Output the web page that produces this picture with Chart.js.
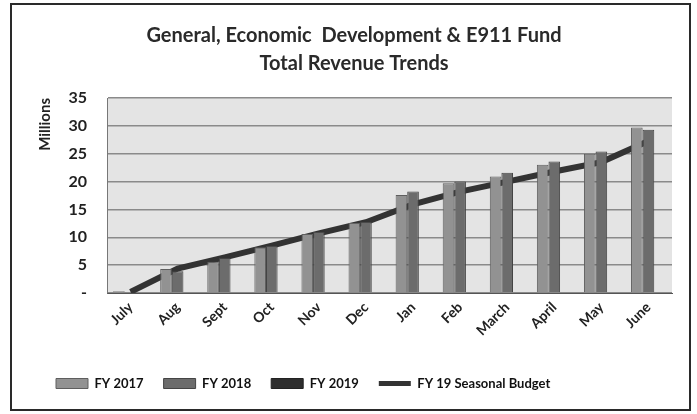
<!DOCTYPE html>
<html>
<head>
<meta charset="utf-8">
<script src="https://cdn.jsdelivr.net/npm/chart.js@4"></script>
<style>
  html, body { margin: 0; padding: 0; background: #fff; }
  #wrap { width: 697px; height: 414px; }
</style>
</head>
<body>
<div id="wrap"><canvas id="myChart" width="697" height="414"></canvas></div>
<script>
let months = ['July', 'Aug', 'Sept', 'Oct', 'Nov', 'Dec', 'Jan', 'Feb', 'March', 'April', 'May', 'June'];
let fy2017 = [0.3, 4.3, 5.6, 8.2, 10.6, 12.6, 17.6, 19.7, 20.9, 23.0, 25.0, 29.7];
let fy2018 = [0.2, 3.9, 6.3, 8.5, 11.0, 12.8, 18.2, 20.0, 21.6, 23.6, 25.4, 29.3];
let fy2019 = [null, null, null, null, null, null, null, null, null, null, null, null];
let budget = [0.2, 4.4, 6.4, 8.5, 10.7, 12.7, 15.9, 18.2, 20.0, 21.8, 23.5, 27.3];
let seriesNames = ['FY 2017', 'FY 2018', 'FY 2019', 'FY 19 Seasonal Budget'];
let colorHex = ['#929292', '#6c6c6c', '#2e2e2e', '#333333'];

let fontFam = 'Lato, "Open Sans", sans-serif';

// light gray plot background + outer frame
let frame = {
    id: 'frame',
    beforeDraw: (chart) => {
        let c = chart.ctx, a = chart.chartArea;
        c.save();
        c.fillStyle = '#e4e4e4';
        c.fillRect(a.left, a.top, a.right - a.left, a.bottom - a.top);
        c.restore();
    },
    afterDraw: (chart) => {
        let c = chart.ctx;
        c.save();
        c.strokeStyle = '#2a2a2a';
        c.lineWidth = 2;
        c.strokeRect(11, 4, 679, 406);
        c.restore();
    }
};

let ctx = document.getElementById('myChart').getContext('2d');
let myChart = new Chart(ctx, {
    type: 'bar',
    data: {
        labels: months,
        datasets: [
            { label: seriesNames[0], data: fy2017, backgroundColor: colorHex[0], borderColor: '#5e5e5e', borderWidth: 1, order: 1 },
            { label: seriesNames[1], data: fy2018, backgroundColor: colorHex[1], borderColor: '#444', borderWidth: 1, order: 2 },
            { label: seriesNames[2], data: fy2019, backgroundColor: colorHex[2], borderColor: '#222', borderWidth: 1, order: 3 },
            { type: 'line', label: seriesNames[3], data: budget, borderColor: colorHex[3], backgroundColor: colorHex[3],
              borderWidth: 6, pointRadius: 0, tension: 0, order: 10 }
        ]
    },
    plugins: [frame],
    options: {
        responsive: false,
        animation: false,
        layout: { padding: { top: 12, left: 36, right: 25, bottom: 14 } },
        datasets: { bar: { categoryPercentage: 0.74, barPercentage: 1.0 } },
        scales: {
            x: {
                grid: { display: false, drawTicks: false },
                border: { display: true, color: '#555', width: 1 },
                ticks: {
                    color: '#222', maxRotation: 45, minRotation: 45, padding: 6,
                    font: { family: fontFam, size: 14, weight: 'bold' }
                },
                afterFit: (scale) => { scale.height = 64; }
            },
            y: {
                min: 0, max: 35,
                ticks: {
                    stepSize: 5, color: '#222', padding: 20,
                    font: { family: fontFam, size: 16, weight: 'bold' },
                    callback: (v) => v === 0 ? '-' : v
                },
                grid: { color: '#8a8a8a', lineWidth: 1.5, drawTicks: false },
                border: { display: true, color: '#777' },
                title: {
                    display: true, text: 'Millions', align: 'end', color: '#222',
                    font: { family: fontFam, size: 15, weight: 'bold' },
                    padding: { top: 0, bottom: 4 }
                },
                afterFit: (scale) => { scale.width = 71; }
            }
        },
        plugins: {
            title: {
                display: true,
                text: ['General, Economic  Development & E911 Fund', 'Total Revenue Trends'],
                color: '#2a2a2a',
                font: { family: fontFam, size: 20, weight: 'bold', lineHeight: 1.4 },
                padding: { top: 10, bottom: 20 }
            },
            legend: {
                position: 'bottom',
                align: 'start',
                labels: {
                    color: '#111',
                    font: { family: fontFam, size: 13, weight: 'bold' },
                    usePointStyle: true,
                    pointStyleWidth: 32,
                    boxHeight: 10,
                    padding: 20,
                    generateLabels: (chart) => {
                        let items = Chart.defaults.plugins.legend.labels.generateLabels(chart);
                        return items.map((it) => {
                            if (it.datasetIndex === 3) {
                                it.pointStyle = 'line';
                                it.lineWidth = 5;
                                it.strokeStyle = colorHex[3];
                            } else {
                                it.pointStyle = 'rect';
                                it.lineWidth = 1;
                            }
                            return it;
                        });
                    }
                }
            },
            tooltip: { enabled: false }
        }
    }
});
</script>
</body>
</html>
